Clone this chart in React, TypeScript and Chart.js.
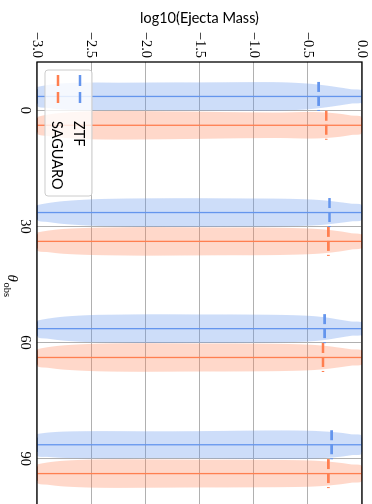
import { useEffect, useRef } from "react";
import { Chart, registerables } from "chart.js";

// clip all dataset drawing (including fills) to the plot area
const areaClipPlugin = {
  id: "areaClip",
  beforeDatasetsDraw(chart: any) {
    const { ctx, chartArea: a } = chart;
    ctx.save();
    ctx.beginPath();
    ctx.rect(a.left, a.top, a.right - a.left, a.bottom - a.top);
    ctx.clip();
  },
  afterDatasetsDraw(chart: any) {
    chart.ctx.restore();
  },
};

Chart.register(areaClipPlugin as any, ...registerables);

// ---- data ----
const thetaObs = [0, 30, 60, 90];
const massTicks = [-3.0, -2.5, -2.0, -1.5, -1.0, -0.5, 0.0];
// log10(Ejecta Mass) sample positions for the violin outlines
const massGrid = [-3.0, -2.9, -2.75, -2.5, -2.25, -2.0, -1.75, -1.5, -1.25, -1.0, -0.75, -0.5, -0.35, -0.2, -0.1, 0.0];

// relative violin density (max = 1) at massGrid, one array per theta
const ztfDensity0 = [0.66, 0.8, 0.92, 0.97, 0.96, 0.97, 0.98, 0.98, 0.99, 1.0, 0.99, 0.9, 0.78, 0.62, 0.5, 0.4];
const ztfDensity30 = [0.52, 0.66, 0.8, 0.92, 0.97, 0.99, 1.0, 1.0, 0.99, 0.98, 0.97, 0.92, 0.85, 0.72, 0.62, 0.51];
const ztfDensity60 = [0.56, 0.7, 0.84, 0.95, 0.98, 1.0, 1.0, 0.99, 0.99, 0.98, 0.96, 0.9, 0.8, 0.62, 0.5, 0.41];
const ztfDensity90 = [0.75, 0.85, 0.92, 0.95, 0.95, 0.94, 0.94, 0.95, 0.97, 0.99, 1.0, 0.98, 0.93, 0.84, 0.73, 0.62];

const saguaroDensity0 = [0.58, 0.75, 0.88, 0.98, 1.0, 0.99, 0.97, 0.95, 0.92, 0.9, 0.89, 0.93, 0.9, 0.8, 0.68, 0.56];
const saguaroDensity30 = [0.62, 0.75, 0.87, 0.95, 0.98, 1.0, 0.99, 0.98, 0.97, 0.97, 0.95, 0.9, 0.83, 0.7, 0.57, 0.44];
const saguaroDensity60 = [0.58, 0.72, 0.85, 0.95, 0.99, 1.0, 0.99, 0.98, 0.98, 0.97, 0.95, 0.9, 0.82, 0.68, 0.57, 0.47];
const saguaroDensity90 = [0.64, 0.78, 0.9, 0.98, 1.0, 0.99, 0.98, 0.97, 0.97, 0.96, 0.95, 0.92, 0.86, 0.75, 0.64, 0.53];

const ztfMin = [-3.0, -3.0, -3.0, -3.0];
const ztfMax = [0.0, 0.0, 0.0, 0.0];
const ztfMedian = [-0.4, -0.3, -0.345, -0.28];
const saguaroMin = [-3.0, -3.0, -3.0, -3.0];
const saguaroMax = [0.0, 0.0, 0.0, 0.0];
const saguaroMedian = [-0.33, -0.31, -0.36, -0.31];

const ztfDensities = [ztfDensity0, ztfDensity30, ztfDensity60, ztfDensity90];
const saguaroDensities = [saguaroDensity0, saguaroDensity30, saguaroDensity60, saguaroDensity90];

// ---- style ----
const BLUE = "#6495ED";
const BLUE_FILL = "rgba(100,149,237,0.32)";
const ORANGE = "#FF7F50";
const ORANGE_FILL = "rgba(255,127,80,0.3)";
const OFFSET_ZTF = -3.6;
const OFFSET_SAG = 3.85;
const HALF_WIDTH = 3.7;
const CAP_HALF = 1.85;
const MEDIAN_HALF = 3.75;

const SERIF = '"Liberation Serif", "Times New Roman", serif';
const SANS = 'Lato, "Liberation Sans", sans-serif';

function buildDatasets(): any[] {
  const ds: any[] = [];
  const series = [
    { off: OFFSET_ZTF, dens: ztfDensities, min: ztfMin, max: ztfMax, med: ztfMedian, line: BLUE, fill: BLUE_FILL },
    { off: OFFSET_SAG, dens: saguaroDensities, min: saguaroMin, max: saguaroMax, med: saguaroMedian, line: ORANGE, fill: ORANGE_FILL },
  ];
  const base = { pointRadius: 0, pointHoverRadius: 0, showLine: true };
  for (const s of series) {
    thetaObs.forEach((t, i) => {
      const pos = t + s.off;
      const d = s.dens[i];
      const pts: { x: number; y: number }[] = [];
      for (let k = 0; k < massGrid.length; k++) pts.push({ x: pos - HALF_WIDTH * d[k], y: massGrid[k] });
      for (let k = massGrid.length - 1; k >= 0; k--) pts.push({ x: pos + HALF_WIDTH * d[k], y: massGrid[k] });
      pts.push({ ...pts[0] });
      ds.push({
        ...base,
        data: pts,
        fill: "shape",
        backgroundColor: s.fill,
        borderWidth: 0,
        borderColor: "rgba(0,0,0,0)",
        tension: 0.3,
        clip: 0,
        order: 10,
      });
      // central bar
      ds.push({
        ...base,
        data: [{ x: pos, y: s.min[i] }, { x: pos, y: s.max[i] }],
        borderColor: s.line,
        borderWidth: 1.3,
        fill: false,
        order: 5,
      });
      // caps
      for (const v of [s.min[i], s.max[i]]) {
        ds.push({
          ...base,
          data: [{ x: pos - CAP_HALF, y: v }, { x: pos + CAP_HALF, y: v }],
          borderColor: s.line,
          borderWidth: 1.6,
          fill: false,
          order: 5,
        });
      }
      // median
      ds.push({
        ...base,
        data: [{ x: pos - MEDIAN_HALF, y: s.med[i] }, { x: pos + MEDIAN_HALF, y: s.med[i] }],
        borderColor: s.line,
        borderWidth: 2.6,
        borderDash: [10, 4],
        borderCapStyle: "butt",
        fill: false,
        order: 1,
      });
    });
  }
  return ds;
}

const framePlugin = {
  id: "frame",
  afterDatasetsDraw(chart: any) {
    const { ctx, chartArea: a } = chart;
    ctx.save();
    ctx.strokeStyle = "#000";
    ctx.lineWidth = 1.3;
    ctx.strokeRect(a.left, a.top, a.right - a.left, a.bottom - a.top);
    ctx.restore();
  },
};

const legendPlugin = {
  id: "violinLegend",
  afterDraw(chart: any) {
    const { ctx, chartArea: a } = chart;
    const w = 126;
    const h = 47;
    const x = a.left + 8;
    const y = a.bottom - 8 - h;
    ctx.save();
    ctx.beginPath();
    const r = 3;
    ctx.moveTo(x + r, y);
    ctx.lineTo(x + w - r, y);
    ctx.arcTo(x + w, y, x + w, y + r, r);
    ctx.lineTo(x + w, y + h - r);
    ctx.arcTo(x + w, y + h, x + w - r, y + h, r);
    ctx.lineTo(x + r, y + h);
    ctx.arcTo(x, y + h, x, y + h - r, r);
    ctx.lineTo(x, y + r);
    ctx.arcTo(x, y, x + r, y, r);
    ctx.closePath();
    ctx.fillStyle = "rgba(255,255,255,0.8)";
    ctx.fill();
    ctx.strokeStyle = "#cccccc";
    ctx.lineWidth = 1;
    ctx.stroke();
    const items = [
      { label: "ZTF", color: BLUE, dy: 12 },
      { label: "SAGUARO", color: ORANGE, dy: 34 },
    ];
    for (const it of items) {
      ctx.beginPath();
      ctx.setLineDash([11, 6]);
      ctx.lineCap = "butt";
      ctx.strokeStyle = it.color;
      ctx.lineWidth = 2.6;
      ctx.moveTo(x + 5, y + it.dy);
      ctx.lineTo(x + 37, y + it.dy);
      ctx.stroke();
      ctx.setLineDash([]);
      ctx.fillStyle = "#000";
      ctx.font = `14.5px ${SANS}`;
      ctx.textBaseline = "middle";
      ctx.textAlign = "left";
      ctx.fillText(it.label, x + 51, y + it.dy + 1);
    }
    ctx.restore();
  },
};

const thetaTitlePlugin = {
  id: "thetaTitle",
  afterDraw(chart: any) {
    const { ctx, chartArea: a } = chart;
    ctx.save();
    ctx.fillStyle = "#000";
    ctx.textBaseline = "alphabetic";
    ctx.textAlign = "left";
    const mainFont = `italic 15px ${SERIF}`;
    const subFont = `10.5px ${SERIF}`;
    ctx.font = mainFont;
    const w1 = ctx.measureText("θ").width;
    ctx.font = subFont;
    const w2 = ctx.measureText("obs").width;
    const cx = (a.left + a.right) / 2;
    const x0 = cx - (w1 + w2) / 2;
    ctx.font = mainFont;
    ctx.fillText("θ", x0, 364);
    ctx.font = subFont;
    ctx.fillText("obs", x0 + w1 + 0.5, 368);
    ctx.restore();
  },
};

export default function App() {
  const ref = useRef<HTMLCanvasElement | null>(null);
  useEffect(() => {
    if (!ref.current) return;
    const chart = new Chart(ref.current, {
      type: "line",
      data: { datasets: buildDatasets() },
      options: {
        animation: false,
        responsive: false,
        devicePixelRatio: 1,
        events: [],
        layout: { padding: { left: 0, top: 10, right: 11, bottom: 0 } },
        plugins: {
          legend: { display: false },
          tooltip: { enabled: false },
        },
        scales: {
          x: {
            type: "linear",
            position: "bottom",
            min: -12.5,
            max: 103,
            afterBuildTicks: (scale: any) => {
              scale.ticks = thetaObs.map((v) => ({ value: v }));
            },
            afterFit: (scale: any) => {
              scale.height = 37;
            },
            ticks: {
              callback: (v: any) => String(v),
              font: { family: SERIF, size: 14.5 },
              color: "#000",
              padding: 0,
              maxRotation: 0,
              minRotation: 0,
              autoSkip: false,
            },
            grid: { color: "#b0b0b0", lineWidth: 1, drawTicks: true, tickLength: 3, tickColor: "rgba(0,0,0,0)" },
            border: { display: false },
          },
          y: {
            type: "linear",
            position: "left",
            min: -3,
            max: 0,
            afterBuildTicks: (scale: any) => {
              scale.ticks = massTicks.map((v) => ({ value: v }));
            },
            afterFit: (scale: any) => {
              scale.width = 62;
            },
            ticks: {
              callback: (v: any) => Number(v).toFixed(1).replace("-", "\u2212"),
              font: { family: SERIF, size: 14.5 },
              color: "#000",
              padding: 0,
              autoSkip: false,
            },
            grid: { color: "#b0b0b0", lineWidth: 1, drawTicks: true, tickLength: 4, tickColor: "rgba(0,0,0,0)" },
            border: { display: false },
            title: {
              display: true,
              text: "log10(Ejecta Mass)",
              font: { family: SANS, size: 14.5 },
              color: "#000",
              padding: { top: 10, bottom: 0 },
            },
          },
        },
      },
      plugins: [framePlugin, legendPlugin, thetaTitlePlugin],
    } as any);
    return () => chart.destroy();
  }, []);

  return (
    <div
      style={{
        position: "fixed",
        left: 0,
        top: 0,
        width: 372,
        height: 504,
        overflow: "hidden",
        background: "#fff",
      }}
    >
      <div
        style={{
          position: "absolute",
          left: 0,
          top: 0,
          width: 520,
          height: 372,
          transformOrigin: "0 0",
          transform: "translate(372px, 0px) rotate(90deg)",
        }}
      >
        <canvas ref={ref} width={520} height={372} style={{ width: 520, height: 372, display: "block" }} />
      </div>
    </div>
  );
}
